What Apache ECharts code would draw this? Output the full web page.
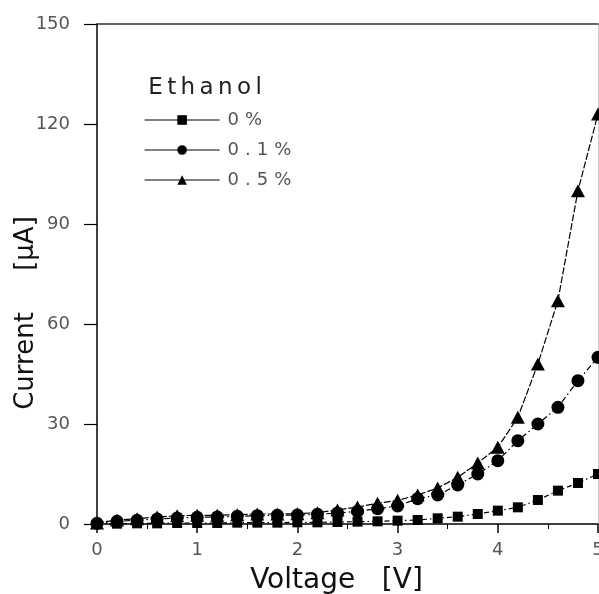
<!DOCTYPE html>
<html>
<head>
<meta charset="utf-8">
<script src="https://cdn.jsdelivr.net/npm/echarts@6/dist/echarts.min.js"></script>
<style>
html,body{margin:0;padding:0;background:#fff;}
#chart{width:599px;height:594px;}
</style>
</head>
<body>
<div id="chart"></div>
<script>
var voltage = [0, 0.2, 0.4, 0.6, 0.8, 1.0, 1.2, 1.4, 1.6, 1.8, 2.0, 2.2, 2.4, 2.6, 2.8, 3.0, 3.2, 3.4, 3.6, 3.8, 4.0, 4.2, 4.4, 4.6, 4.8, 5.0];
var ethanol0 = [0, 0.1, 0.2, 0.2, 0.3, 0.3, 0.3, 0.4, 0.4, 0.4, 0.5, 0.5, 0.6, 0.7, 0.8, 1.0, 1.2, 1.7, 2.2, 3.0, 4.0, 5.0, 7.2, 10, 12.3, 15];
var ethanol01 = [0.2, 0.8, 1.1, 1.5, 1.8, 2.0, 2.1, 2.3, 2.5, 2.6, 2.7, 2.9, 3.3, 3.8, 4.6, 5.4, 7.6, 8.7, 11.7, 15, 19, 25, 30, 35, 43, 50];
var ethanol05 = [0.3, 1.2, 1.6, 2.1, 2.5, 2.6, 2.6, 2.8, 3.0, 3.0, 3.1, 3.4, 4.2, 5.1, 6.2, 7.1, 8.7, 10.8, 14, 18.3, 23, 32, 48, 67, 100, 123];
var seriesNames = ['0%', '0.1%', '0.5%'];
var legendTitle = 'Ethanol';
var xTitle = 'Voltage   [V]';
var yTitle = 'Current     [\u00b5A]';
var xTicks = [0, 1, 2, 3, 4, 5];
var yTicks = [0, 30, 60, 90, 120, 150];

function pairs(ys) { return voltage.map(function (v, i) { return [v, ys[i]]; }); }
// spread characters a little (the reference font is wide)
function spaced(str, key) {
  return str.split('').map(function (c) { return '{' + key + '|' + c + '}'; }).join('');
}

var chart = echarts.init(document.getElementById('chart'), null, {renderer: 'canvas'});
var fontFam = '"DejaVu Sans", Verdana, sans-serif';
var option = {
  animation: false,
  backgroundColor: '#fff',
  title: {
    text: spaced(legendTitle, 't'), left: 141, top: 72,
    textStyle: {
      fontSize: 23, fontWeight: 'normal', color: '#222', fontFamily: fontFam,
      rich: {t: {fontSize: 23, color: '#222', fontFamily: fontFam, padding: [0, 2.2, 0, 2.2]}}
    }
  },
  legend: {
    orient: 'vertical', left: 139, top: 106,
    itemWidth: 75, itemHeight: 12, itemGap: 12,
    data: seriesNames,
    lineStyle: {type: 'solid', width: 1.2, color: '#000'},
    formatter: function (name) { return spaced(name, 'l'); },
    textStyle: {
      fontSize: 18, color: '#555', fontFamily: fontFam,
      rich: {l: {fontSize: 18, color: '#555', fontFamily: fontFam, padding: [0, 3, 0, 3]}}
    }
  },
  grid: {left: 97, right: 1, top: 24, bottom: 70, containLabel: false, outerBoundsMode: 'none'},
  xAxis: [{
    type: 'value', min: xTicks[0], max: xTicks[xTicks.length - 1], interval: 1,
    name: xTitle, nameLocation: 'middle', nameGap: 43, nameMoveOverlap: false,
    nameTextStyle: {fontSize: 28, color: '#111', fontFamily: fontFam, padding: [0, 22, 0, 0]},
    axisLine: {show: true, onZero: false, lineStyle: {color: '#000', width: 1.5}},
    axisTick: {show: true, length: 9, inside: false, lineStyle: {color: '#000', width: 1.5}},
    minorTick: {show: true, splitNumber: 2, length: 5, lineStyle: {color: '#000', width: 1}},
    axisLabel: {fontSize: 18, color: '#555', margin: 17, fontFamily: fontFam, hideOverlap: false},
    splitLine: {show: false}
  }, {
    type: 'value', position: 'top', min: 0, max: 5,
    axisLine: {show: true, onZero: false, lineStyle: {color: '#333', width: 1.5}},
    axisTick: {show: false}, axisLabel: {show: false}, splitLine: {show: false}
  }],
  yAxis: [{
    type: 'value', min: yTicks[0], max: yTicks[yTicks.length - 1], interval: 30,
    name: yTitle, nameLocation: 'middle', nameGap: 58, nameRotate: 90, nameMoveOverlap: false,
    nameTextStyle: {fontSize: 26, color: '#111', fontFamily: fontFam, padding: [0, 78, 0, 0]},
    axisLine: {show: true, onZero: false, lineStyle: {color: '#000', width: 1.5}},
    axisTick: {show: true, length: 13, lineStyle: {color: '#000', width: 1.2}},
    axisLabel: {fontSize: 18, color: '#555', margin: 27, fontFamily: fontFam},
    splitLine: {show: false}
  }, {
    type: 'value', position: 'right', min: 0, max: 150,
    axisLine: {show: true, onZero: false, lineStyle: {color: '#ccc', width: 1}},
    axisTick: {show: false}, axisLabel: {show: false}, splitLine: {show: false}
  }],
  series: [{
    name: seriesNames[0], type: 'line', data: pairs(ethanol0),
    symbol: 'rect', symbolSize: 10, clip: false,
    itemStyle: {color: '#000'},
    lineStyle: {color: '#000', width: 1.2, type: [5, 3, 1.5, 3]}
  }, {
    name: seriesNames[1], type: 'line', data: pairs(ethanol01),
    symbol: 'circle', symbolSize: 13, clip: false,
    itemStyle: {color: '#000'},
    lineStyle: {color: '#000', width: 1.2, type: [6, 3, 1.5, 3]}
  }, {
    name: seriesNames[2], type: 'line', data: pairs(ethanol05),
    symbol: 'triangle', symbolSize: [14, 13], clip: false,
    itemStyle: {color: '#000'},
    lineStyle: {color: '#000', width: 1.2, type: [7, 2]}
  }]
};
chart.setOption(option);
</script>
</body>
</html>
